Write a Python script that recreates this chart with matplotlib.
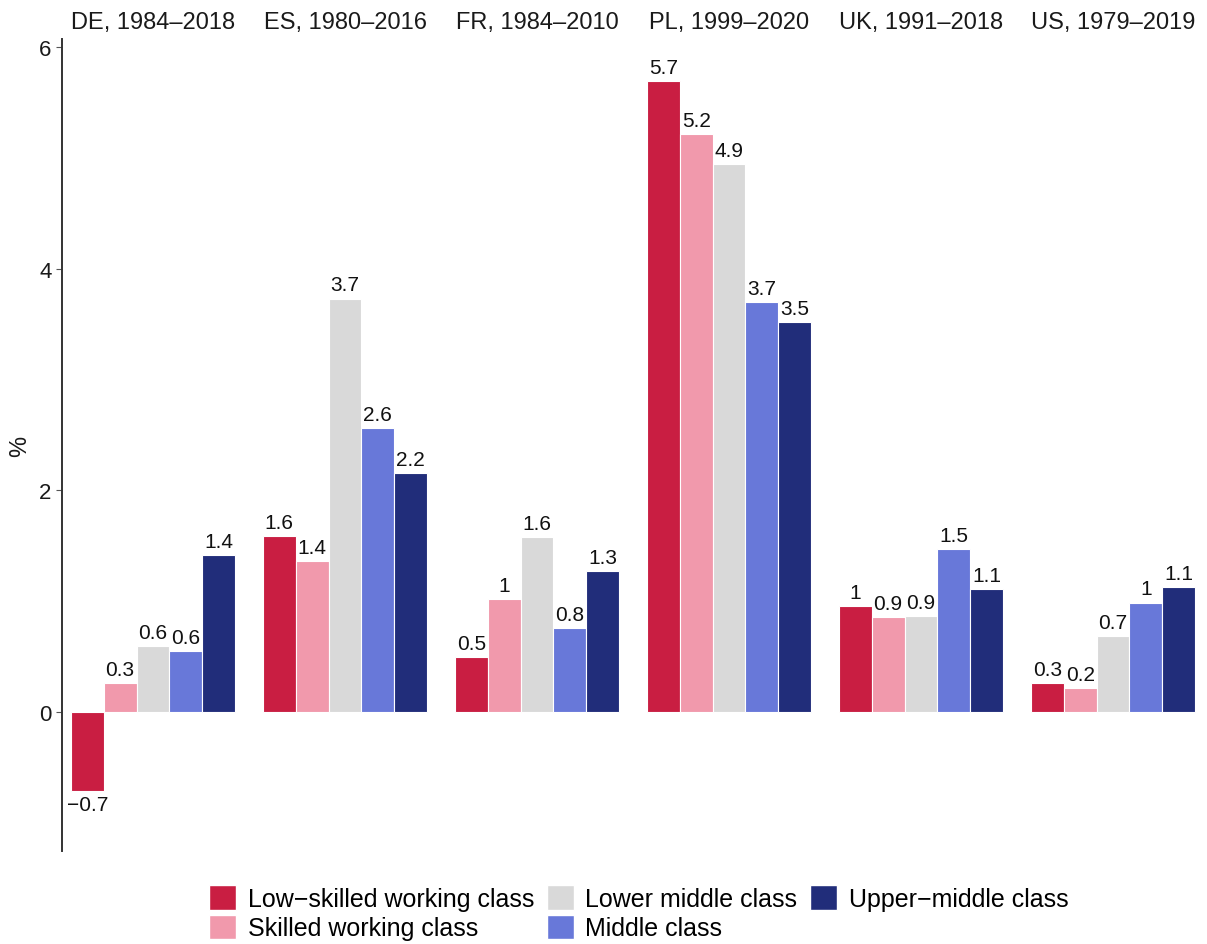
import matplotlib
matplotlib.use("Agg")
import matplotlib.pyplot as plt
from matplotlib.patches import Patch

plt.rcParams['font.family'] = ['Liberation Sans', 'DejaVu Sans']

panels = ["DE, 1984–2018", "ES, 1980–2016", "FR, 1984–2010",
          "PL, 1999–2020", "UK, 1991–2018", "US, 1979–2019"]
classes = ["Low−skilled working class", "Skilled working class",
           "Lower middle class", "Middle class", "Upper−middle class"]
colors = ["#C91E42", "#F199AC", "#D9D9D9", "#6878D9", "#212D7A"]

de = [-0.71, 0.26, 0.60, 0.55, 1.42]
es = [1.59, 1.36, 3.73, 2.56, 2.16]
fr = [0.50, 1.02, 1.58, 0.76, 1.27]
pl = [5.69, 5.21, 4.94, 3.70, 3.52]
uk = [0.96, 0.86, 0.87, 1.47, 1.11]
us = [0.26, 0.22, 0.69, 0.99, 1.13]
values = [de, es, fr, pl, uk, us]


def fmt(v):
    s = "%.1f" % v
    if s.endswith(".0"):
        s = s[:-2]
    return s.replace("-", "−")


W, H = 1207, 945
fig = plt.figure(figsize=(W / 100, H / 100), dpi=100)

top_px, bot_px = 40, 852
pw = 182
x = list(range(5))
for i, (title, vals) in enumerate(zip(panels, values)):
    left = 62 + i * 192
    ax = fig.add_axes([left / W, 1 - bot_px / H, pw / W, (bot_px - top_px) / H])
    bars = ax.bar(x, vals, width=1.0, color=colors, edgecolor="white", linewidth=0.8)
    for b, v in zip(bars, vals):
        if v >= 0:
            ax.annotate(fmt(v), (b.get_x() + b.get_width() / 2, v), xytext=(0, 3),
                        textcoords="offset points", ha="center", va="bottom", fontsize=15, color="#111111")
        else:
            ax.annotate(fmt(v), (b.get_x() + b.get_width() / 2, v), xytext=(0, -3),
                        textcoords="offset points", ha="center", va="top", fontsize=15, color="#111111")
    ax.set_xlim(-0.77, 4.77)
    ax.set_ylim(-1.25, 6.07)
    ax.set_xticks([])
    for s in ["top", "right", "bottom"]:
        ax.spines[s].set_visible(False)
    ax.set_title(title, fontsize=17, color="#1a1a1a", pad=8)
    if i == 0:
        ax.spines["left"].set_linewidth(1.4)
        ax.spines["left"].set_color("#333333")
        ax.set_yticks([0, 2, 4, 6])
        ax.tick_params(axis="y", length=4, width=0.8, color="#555555", labelsize=16, labelcolor="#1a1a1a")
        ax.set_ylabel("%", fontsize=17, color="#1a1a1a", labelpad=6)
    else:
        ax.spines["left"].set_visible(False)
        ax.set_yticks([])

handles = [Patch(facecolor=c, edgecolor="white") for c in colors]
fig.legend(handles, classes, ncol=3, loc="lower center", bbox_to_anchor=(0.529, -0.02),
           frameon=False, fontsize=18, handlelength=1.1, handleheight=1.15,
           handletextpad=0.45, columnspacing=0.5, labelspacing=0.15)

fig.savefig("out.png", dpi=100)
